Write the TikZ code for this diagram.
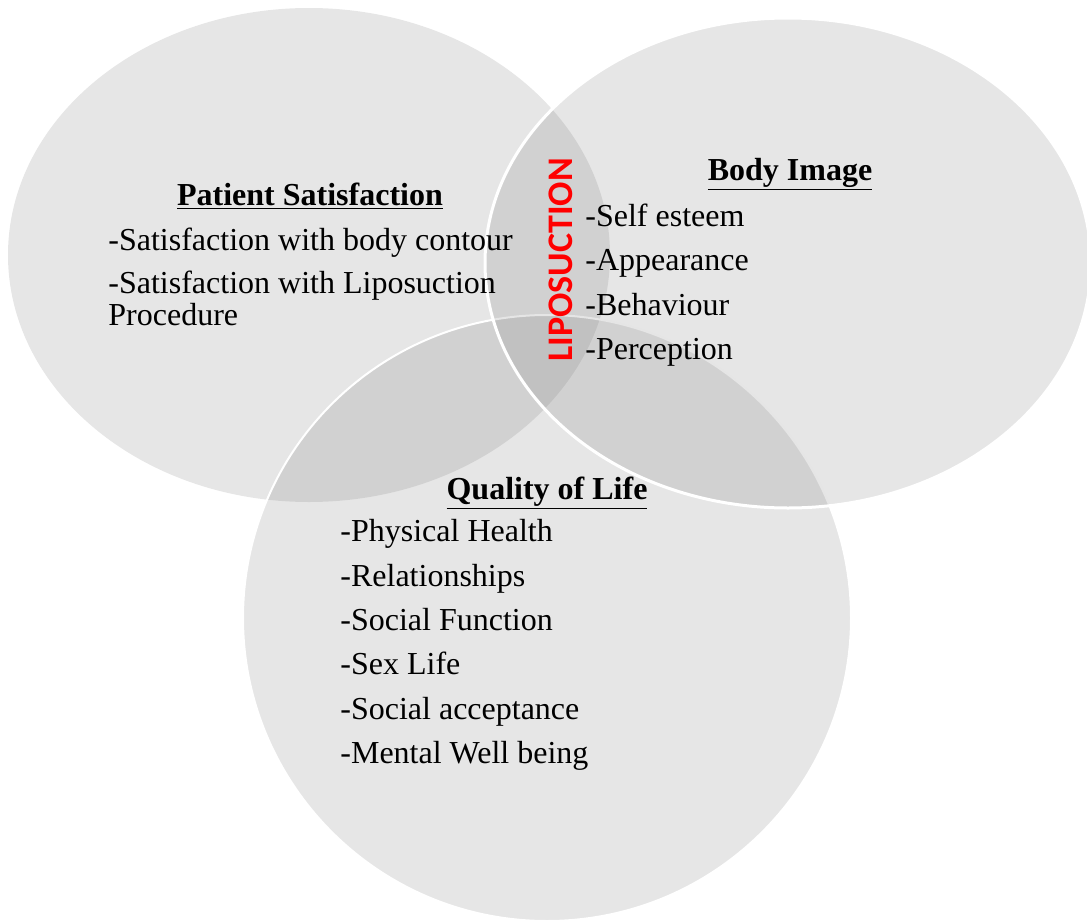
\documentclass[tikz,border=0pt]{standalone}
\usepackage{fontspec}
\setmainfont{Liberation Serif}
\newfontfamily\liposans{Carlito}
\begin{document}
\begin{tikzpicture}[x=0.5pt,y=-0.5pt]
\tikzset{bulle/.style={fill=gray, fill opacity=0.2},
  titre/.style={font=\fontsize{16}{19}\selectfont\bfseries, anchor=base, inner sep=0pt},
  ligne/.style={font=\fontsize{16}{19}\selectfont, anchor=base west, inner sep=0pt}}
\useasboundingbox (0,0) rectangle (1087,921);
\fill[bulle] (309,255) ellipse [x radius=301, y radius=247];
\filldraw[bulle, draw=white, line width=1pt] (547,618) ellipse [x radius=304, y radius=303];
\filldraw[bulle, draw=white, line width=1.5pt] (788,263) ellipse [x radius=303, y radius=245];
\node[titre] (PS) at (310,205) {\underline{Patient Satisfaction}};
\node[ligne] (PS1) at (108,250) {-Satisfaction with body contour};
\node[ligne] (PS2) at (108,293) {-Satisfaction with Liposuction};
\node[ligne] (PS3) at (108,325) {Procedure};
\node[titre] (BI) at (790,180) {\underline{Body Image}};
\node[ligne] (BI1) at (585,226) {-Self esteem};
\node[ligne] (BI2) at (585,270) {-Appearance};
\node[ligne] (BI3) at (585,315) {-Behaviour};
\node[ligne] (BI4) at (585,359) {-Perception};
\node[titre] (QL) at (547,499) {\underline{Quality of Life}};
\node[ligne] (QL1) at (340,541) {-Physical Health};
\node[ligne] (QL2) at (340,586) {-Relationships};
\node[ligne] (QL3) at (340,630) {-Social Function};
\node[ligne] (QL4) at (340,674) {-Sex Life};
\node[ligne] (QL5) at (340,719) {-Social acceptance};
\node[ligne] (QL6) at (340,763) {-Mental Well being};
\node[rotate=90, text=red, inner sep=0pt, font=\liposans\fontsize{18}{20}\selectfont\bfseries] (lipo) at (561,260) {LIPOSUCTION};
\end{tikzpicture}
\end{document}
